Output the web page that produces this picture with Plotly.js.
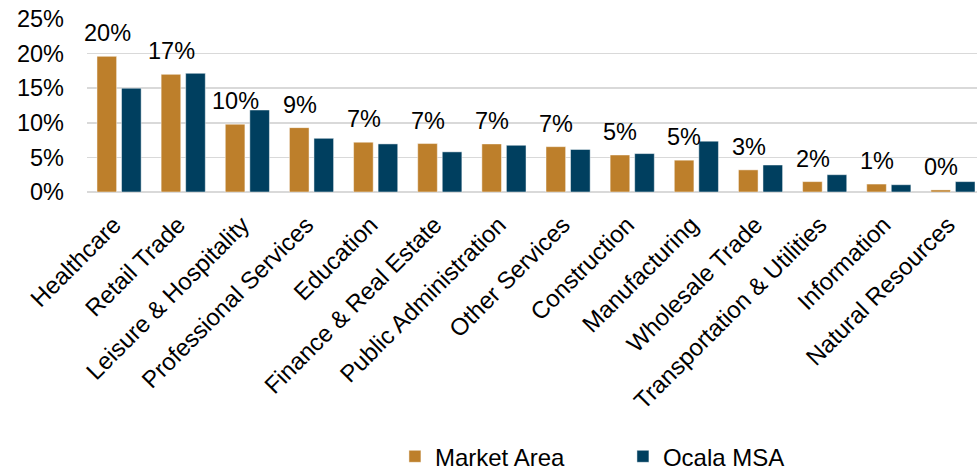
<!DOCTYPE html>
<html>
<head>
<meta charset="utf-8">
<script src="https://cdn.plot.ly/plotly-3.0.1.min.js"></script>
<style>html,body{margin:0;padding:0;background:#fff;overflow:hidden;}#chart{width:977px;height:470px;}</style>
</head>
<body>
<div id="chart"></div>
<script>
var categories = ["Healthcare", "Retail Trade", "Leisure & Hospitality", "Professional Services", "Education", "Finance & Real Estate", "Public Administration", "Other Services", "Construction", "Manufacturing", "Wholesale Trade", "Transportation & Utilities", "Information", "Natural Resources"];
var marketArea = [19.6, 17.0, 9.8, 9.3, 7.2, 7.0, 6.95, 6.55, 5.35, 4.6, 3.2, 1.5, 1.15, 0.3];
var ocalaMSA = [15.0, 17.15, 11.85, 7.75, 6.95, 5.8, 6.75, 6.15, 5.55, 7.35, 3.9, 2.5, 1.05, 1.5];
var yTicks = [0, 5, 10, 15, 20, 25];

var font = "Liberation Sans, Arial, sans-serif";
var gold = "#BD7F2B";
var navy = "#003F5F";

var traces = [
  {type: "bar", name: "Market Area", x: categories, y: marketArea,
   marker: {color: gold, line: {color: "rgba(255,255,255,0.6)", width: 0.8}}, hoverinfo: "x+y"},
  {type: "bar", name: "Ocala MSA", x: categories, y: ocalaMSA,
   marker: {color: navy, line: {color: "rgba(255,255,255,0.6)", width: 0.8}}, hoverinfo: "x+y"}
];

var annotations = categories.map(function(c, i) {
  return {x: c, y: marketArea[i], xref: "x", yref: "y", text: Math.round(marketArea[i]) + "%",
    showarrow: false, xanchor: "center", yanchor: "bottom", xshift: -12, yshift: 8,
    font: {family: font, size: 23.5, color: "#000"}};
});

var layout = {
  width: 977, height: 470,
  margin: {l: 87, r: 0, t: 19, b: 278, autoexpand: false},
  paper_bgcolor: "#fff", plot_bgcolor: "#fff",
  barmode: "group", bargap: 0.235, bargroupgap: 0.2,
  showlegend: true,
  legend: {orientation: "h", x: 0.346, xanchor: "left", y: -1.40, yanchor: "top",
    font: {family: font, size: 24, color: "#000"}, entrywidth: 183, traceorder: "normal"},
  xaxis: {type: "category", range: [-0.5, 13.375], tickangle: -45, automargin: false, showgrid: false, zeroline: false,
    showline: false, ticks: "", ticklabelstandoff: 13, ticklabelshift: -5,
    tickfont: {family: font, size: 24, color: "#000"}},
  yaxis: {range: [0, 25], tickvals: yTicks, ticktext: yTicks.map(function(v){return v + "%";}),
    showgrid: true, gridcolor: "#d9d9d9", gridwidth: 1.5, zeroline: true, zerolinecolor: "#d9d9d9", zerolinewidth: 1.5,
    showline: false, ticks: "", ticklabelstandoff: 22, automargin: false,
    tickfont: {family: font, size: 23.5, color: "#000"}},
  annotations: annotations
};

Plotly.newPlot("chart", traces, layout, {displayModeBar: false, staticPlot: true});
</script>
</body>
</html>
